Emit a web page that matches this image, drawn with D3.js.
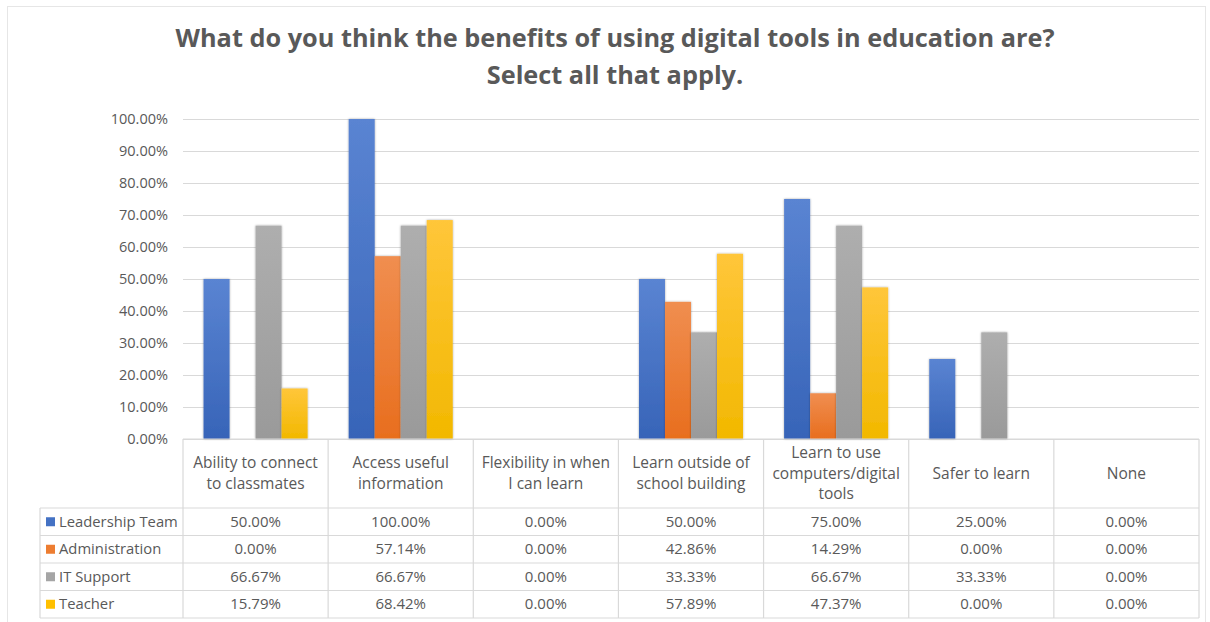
<!DOCTYPE html>
<html>
<head>
<meta charset="utf-8">
<script src="https://cdn.jsdelivr.net/npm/d3@7"></script>
<style>
  html, body { margin: 0; padding: 0; background: #fff; }
  svg { display: block; }
  text { font-family: "Open Sans", "DejaVu Sans", sans-serif; }
</style>
</head>
<body>
<svg id="chart" width="1210" height="622"></svg>
<script>
// Survey answers by respondent group (percent of each group)
const categories = [
  "Ability to connect to classmates",
  "Access useful information",
  "Flexibility in when I can learn",
  "Learn outside of school building",
  "Learn to use computers/digital tools",
  "Safer to learn",
  "None"
];
// Header cell wrapping for each category
const categoryLines = [
  ["Ability to connect", "to classmates"],
  ["Access useful", "information"],
  ["Flexibility in when", "I can learn"],
  ["Learn outside of", "school building"],
  ["Learn to use", "computers/digital", "tools"],
  ["Safer to learn"],
  ["None"]
];
const seriesNames = ["Leadership Team", "Administration", "IT Support", "Teacher"];
const leadershipTeam = [50.00, 100.00, 0.00, 50.00, 75.00, 25.00, 0.00];
const administration = [0.00, 57.14, 0.00, 42.86, 14.29, 0.00, 0.00];
const itSupport      = [66.67, 66.67, 0.00, 33.33, 66.67, 33.33, 0.00];
const teacher        = [15.79, 68.42, 0.00, 57.89, 47.37, 0.00, 0.00];
const yTicks = [0, 10, 20, 30, 40, 50, 60, 70, 80, 90, 100];
const titleLines = [
  "What do you think the benefits of using digital tools in education are?",
  "Select all that apply."
];

const seriesValues = [leadershipTeam, administration, itSupport, teacher];
const colors = [
  { base: "#4472C4", top: "#5A84D2", bottom: "#3764B8" },
  { base: "#ED7D31", top: "#F08E50", bottom: "#E86E1E" },
  { base: "#A5A5A5", top: "#AEAEAE", bottom: "#9A9A9A" },
  { base: "#FFC000", top: "#FFC63A", bottom: "#F2B800" }
];

const svg = d3.select("#chart");
const W = 1210, H = 622;
const plot = { left: 183, right: 1199, top: 119, bottom: 439 };
const tableLeft = 40;
const headerBottom = 508;
const rowH = 27.5;
const gridColor = "#D9D9D9";
const textColor = "#595959";
const tableFont = 15;

// Gradients for the bar fills
const defs = svg.append("defs");
colors.forEach((c, i) => {
  const g = defs.append("linearGradient")
    .attr("id", "grad" + i).attr("x1", 0).attr("y1", 0).attr("x2", 0).attr("y2", 1);
  g.append("stop").attr("offset", "0%").attr("stop-color", c.top);
  g.append("stop").attr("offset", "100%").attr("stop-color", c.bottom);
});
const shadow = defs.append("filter").attr("id", "barShadow")
  .attr("x", "-20%").attr("y", "-5%").attr("width", "140%").attr("height", "110%");
shadow.append("feGaussianBlur").attr("in", "SourceAlpha").attr("stdDeviation", 1.2).attr("result", "b");
shadow.append("feComponentTransfer").attr("in", "b").attr("result", "s")
  .append("feFuncA").attr("type", "linear").attr("slope", 0.35);
const merge = shadow.append("feMerge");
merge.append("feMergeNode").attr("in", "s");
merge.append("feMergeNode").attr("in", "SourceGraphic");

// Chart frame
svg.append("rect")
  .attr("x", 7.5).attr("y", 6.5).attr("width", W - 12).attr("height", H - 5)
  .attr("fill", "#fff").attr("stroke", "#E6E6E6").attr("stroke-width", 1);

// Title
const title = svg.append("text")
  .attr("text-anchor", "middle")
  .attr("fill", textColor)
  .attr("font-weight", "bold")
  .attr("font-size", 25.3);
titleLines.forEach((t, i) => {
  title.append("tspan").attr("x", 615).attr("y", 47 + i * 37).text(t);
});

// Scales
const x0 = d3.scaleBand().domain(categories).range([plot.left, plot.right]).paddingInner(0).paddingOuter(0);
const x1 = d3.scaleBand().domain(seriesNames).range([0, x0.bandwidth()]).paddingInner(0).paddingOuter(0.79);
const y = d3.scaleLinear().domain([0, 100]).range([plot.bottom, plot.top]);

// Gridlines and y axis labels
const yAxis = d3.axisLeft(y)
  .tickValues(yTicks)
  .tickSize(-(plot.right - plot.left))
  .tickPadding(15)
  .tickFormat(d => d.toFixed(2) + "%");
const yg = svg.append("g").attr("transform", `translate(${plot.left},0)`).call(yAxis);
yg.select(".domain").remove();
yg.selectAll(".tick line").attr("stroke", gridColor).attr("stroke-width", 1.2);
yg.selectAll(".tick text")
  .attr("fill", textColor)
  .attr("font-size", 14.5)
  .style("font-family", '"Open Sans", sans-serif');

// Bars
const groups = svg.append("g").selectAll("g")
  .data(categories)
  .join("g")
  .attr("transform", d => `translate(${x0(d)},0)`);
groups.selectAll("rect")
  .data((d, ci) => seriesNames.map((s, si) => ({ s, si, v: seriesValues[si][ci] })))
  .join("rect")
  .filter(d => d.v > 0)
  .attr("x", d => x1(d.s))
  .attr("width", x1.bandwidth())
  .attr("y", d => y(d.v))
  .attr("height", d => y(0) - y(d.v))
  .attr("fill", d => `url(#grad${d.si})`)
  .attr("filter", "url(#barShadow)");

// Data table
const table = svg.append("g");
const tableBottom = headerBottom + rowH * seriesNames.length;
const lineAttrs = sel => sel.attr("stroke", gridColor).attr("stroke-width", 1.2).attr("fill", "none");

// Horizontal rules
table.append("line").call(lineAttrs)
  .attr("x1", plot.left).attr("x2", plot.right).attr("y1", plot.bottom).attr("y2", plot.bottom);
d3.range(seriesNames.length + 1).forEach(i => {
  const yy = headerBottom + i * rowH;
  table.append("line").call(lineAttrs)
    .attr("x1", tableLeft).attr("x2", plot.right).attr("y1", yy).attr("y2", yy);
});
// Vertical rules
table.append("line").call(lineAttrs)
  .attr("x1", tableLeft).attr("x2", tableLeft).attr("y1", headerBottom).attr("y2", tableBottom);
categories.forEach(c => {
  table.append("line").call(lineAttrs)
    .attr("x1", x0(c)).attr("x2", x0(c)).attr("y1", plot.bottom).attr("y2", tableBottom);
});
table.append("line").call(lineAttrs)
  .attr("x1", plot.right).attr("x2", plot.right).attr("y1", plot.bottom).attr("y2", tableBottom);

// Category headers
const headerMid = (plot.bottom + headerBottom) / 2;
categories.forEach((c, ci) => {
  const lines = categoryLines[ci];
  const lh = 20.5;
  const t = table.append("text")
    .attr("text-anchor", "middle")
    .attr("fill", textColor)
    .attr("font-size", 15.5);
  lines.forEach((ln, li) => {
    t.append("tspan")
      .attr("x", x0(c) + x0.bandwidth() / 2)
      .attr("y", headerMid + (li - (lines.length - 1) / 2) * lh + 5)
      .text(ln);
  });
});

// Series rows: legend key, name, values
seriesNames.forEach((s, si) => {
  const rowMid = headerBottom + si * rowH + rowH / 2;
  table.append("rect")
    .attr("x", 46).attr("y", rowMid - 4.5).attr("width", 9).attr("height", 9)
    .attr("fill", colors[si].base);
  table.append("text")
    .attr("x", 59).attr("y", rowMid + 5)
    .attr("fill", textColor).attr("font-size", 14.8)
    .text(s);
  categories.forEach((c, ci) => {
    table.append("text")
      .attr("x", x0(c) + x0.bandwidth() / 2).attr("y", rowMid + 5)
      .attr("text-anchor", "middle")
      .attr("fill", textColor).attr("font-size", tableFont)
      .text(seriesValues[si][ci].toFixed(2) + "%");
  });
});
</script>
</body>
</html>
